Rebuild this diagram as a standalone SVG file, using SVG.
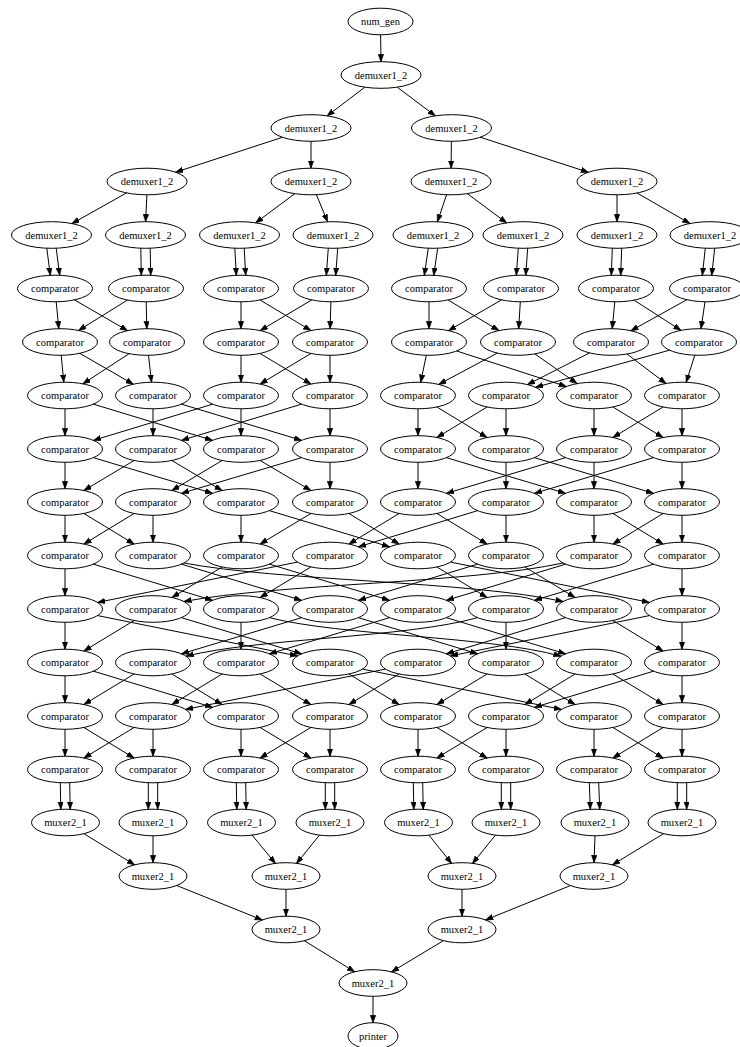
<svg xmlns="http://www.w3.org/2000/svg" width="740" height="1047" viewBox="0 0 740 1047">
<defs>
<marker id="ah" markerWidth="8" markerHeight="6" refX="7.5" refY="2.75" orient="auto" markerUnits="userSpaceOnUse"><path d="M0,0 L7.5,2.75 L0,5.5 z" fill="#000" stroke="#000" stroke-width="0.6"/></marker>
</defs>
<style>
.e line,.e path{stroke:#000;stroke-width:1;fill:none;marker-end:url(#ah)}
.n ellipse{fill:none;stroke:#000;stroke-width:1}
.n text{font-family:"Liberation Serif","Times New Roman",serif;font-size:10.5px;text-anchor:middle;fill:#000}
</style>
<rect width="740" height="1047" fill="#fff"/>

<g id="edges" class="e">
<!-- distribution tree -->
<line x1="380.6" y1="34.8" x2="381" y2="61.7"/>
<line x1="364.9" y1="87.2" x2="327.1" y2="115.8"/>
<line x1="397.2" y1="87.2" x2="435.3" y2="115.8"/>
<line x1="282.4" y1="137.3" x2="175.6" y2="172.2"/>
<line x1="311" y1="141.3" x2="311" y2="168.2"/>
<line x1="451.4" y1="141.3" x2="451.1" y2="168.2"/>
<line x1="480.1" y1="137.2" x2="588.4" y2="172.3"/>
<line x1="126.6" y1="192.9" x2="71.9" y2="223.6"/>
<line x1="146.9" y1="194.8" x2="145.6" y2="221.7"/>
<line x1="294.8" y1="193.7" x2="255.7" y2="222.8"/>
<line x1="316.4" y1="194.7" x2="327.6" y2="221.8"/>
<line x1="446.6" y1="194.7" x2="437.4" y2="221.8"/>
<line x1="467.3" y1="193.6" x2="506.7" y2="222.9"/>
<line x1="617" y1="194.8" x2="617" y2="221.7"/>
<line x1="637" y1="193" x2="690" y2="223.5"/>
<!-- demuxer outputs into first comparator stage -->
<line x1="46.8" y1="248.2" x2="50.3" y2="275.3"/><line x1="56.2" y1="248.2" x2="59.7" y2="275.3"/>
<line x1="140.8" y1="248.2" x2="141.3" y2="275.3"/><line x1="150.2" y1="248.2" x2="150.7" y2="275.3"/>
<line x1="234.8" y1="248.2" x2="236.3" y2="275.3"/><line x1="244.2" y1="248.2" x2="245.7" y2="275.3"/>
<line x1="328.3" y1="248.2" x2="326.3" y2="275.3"/><line x1="337.7" y1="248.2" x2="335.7" y2="275.3"/>
<line x1="428.3" y1="248.2" x2="424.3" y2="275.3"/><line x1="437.7" y1="248.2" x2="433.7" y2="275.3"/>
<line x1="518.3" y1="248.2" x2="516.3" y2="275.3"/><line x1="527.7" y1="248.2" x2="525.7" y2="275.3"/>
<line x1="612.3" y1="248.2" x2="611.3" y2="275.3"/><line x1="621.7" y1="248.2" x2="620.7" y2="275.3"/>
<line x1="705.3" y1="248.2" x2="702.3" y2="275.3"/><line x1="714.7" y1="248.2" x2="711.7" y2="275.3"/>
<!-- stage 1 -> 2 -->
<line x1="56.2" y1="301.8" x2="58.8" y2="328.7"/>
<line x1="74.5" y1="299.9" x2="127.5" y2="330.6"/>
<line x1="127.4" y1="300.1" x2="78.6" y2="330.4"/>
<line x1="146.2" y1="301.8" x2="146.8" y2="328.7"/>
<line x1="241" y1="301.8" x2="241" y2="328.7"/>
<line x1="260.1" y1="300" x2="310.9" y2="330.5"/>
<line x1="311.8" y1="299.9" x2="260.2" y2="330.6"/>
<line x1="330.9" y1="301.8" x2="330.1" y2="328.7"/>
<line x1="429" y1="301.8" x2="429" y2="328.7"/>
<line x1="448.1" y1="300" x2="498.9" y2="330.5"/>
<line x1="501.5" y1="299.9" x2="448.5" y2="330.6"/>
<line x1="520.3" y1="301.8" x2="518.7" y2="328.7"/>
<line x1="614.8" y1="301.8" x2="612.2" y2="328.7"/>
<line x1="634.1" y1="300.2" x2="680.9" y2="330.3"/>
<line x1="686.9" y1="299.7" x2="630.9" y2="330.8"/>
<line x1="705" y1="301.8" x2="701" y2="328.7"/>
<!-- stage 2 -> 3 -->
<line x1="61.2" y1="355.3" x2="63.8" y2="382.2"/>
<line x1="79.7" y1="353.3" x2="133.3" y2="384.2"/>
<line x1="129.1" y1="353.7" x2="82.9" y2="383.8"/>
<line x1="148.5" y1="355.3" x2="151.5" y2="382.2"/>
<line x1="241" y1="355.3" x2="241" y2="382.2"/>
<line x1="260.1" y1="353.5" x2="310.9" y2="384"/>
<line x1="310.9" y1="353.5" x2="260.1" y2="384"/>
<line x1="330" y1="355.3" x2="330" y2="382.2"/>
<line x1="426.3" y1="355.3" x2="420.7" y2="382.2"/>
<line x1="456.7" y1="351" x2="566.3" y2="386.5"/>
<line x1="497.3" y1="353.1" x2="438.7" y2="384.4"/>
<line x1="534.9" y1="353.9" x2="577.1" y2="383.6"/>
<line x1="589.6" y1="352.9" x2="527.4" y2="384.6"/>
<line x1="627" y1="354" x2="666" y2="383.5"/>
<line x1="669.5" y1="350.2" x2="535.5" y2="387.3"/>
<line x1="694.8" y1="355.2" x2="686.2" y2="382.3"/>
<!-- stage 3 -> 4 -->
<line x1="65" y1="408.8" x2="65" y2="435.7"/>
<line x1="93.5" y1="404.2" x2="212.5" y2="440.3"/>
<line x1="153" y1="408.8" x2="153" y2="435.7"/>
<line x1="181.5" y1="404.2" x2="301.5" y2="440.3"/>
<line x1="212.5" y1="404.2" x2="93.5" y2="440.3"/>
<line x1="241" y1="408.8" x2="241" y2="435.7"/>
<line x1="301.5" y1="404.2" x2="181.5" y2="440.3"/>
<line x1="330" y1="408.8" x2="330" y2="435.7"/>
<line x1="418" y1="408.8" x2="418" y2="435.7"/>
<line x1="436.9" y1="407" x2="487.1" y2="437.5"/>
<line x1="487.1" y1="407" x2="436.9" y2="437.5"/>
<line x1="506" y1="408.8" x2="506" y2="435.7"/>
<line x1="594" y1="408.8" x2="594" y2="435.7"/>
<line x1="612.9" y1="407" x2="663.1" y2="437.5"/>
<line x1="663.1" y1="407" x2="612.9" y2="437.5"/>
<line x1="682" y1="408.8" x2="682" y2="435.7"/>
<!-- stage 4 -> 5 -->
<line x1="65" y1="462.3" x2="65" y2="488.7"/>
<line x1="93.5" y1="457.7" x2="212.5" y2="493.3"/>
<line x1="134.1" y1="460.5" x2="83.9" y2="490.5"/>
<line x1="171.9" y1="460.5" x2="222.1" y2="490.5"/>
<line x1="222.1" y1="460.5" x2="171.9" y2="490.5"/>
<line x1="260.1" y1="460.5" x2="310.9" y2="490.5"/>
<line x1="301.5" y1="457.7" x2="181.5" y2="493.3"/>
<line x1="330" y1="462.3" x2="330" y2="488.7"/>
<line x1="418" y1="462.3" x2="418" y2="488.7"/>
<line x1="446.5" y1="457.7" x2="565.5" y2="493.3"/>
<line x1="506" y1="462.3" x2="506" y2="488.7"/>
<line x1="534.5" y1="457.7" x2="653.5" y2="493.3"/>
<line x1="565.5" y1="457.7" x2="446.5" y2="493.3"/>
<line x1="594" y1="462.3" x2="594" y2="488.7"/>
<line x1="653.5" y1="457.7" x2="534.5" y2="493.3"/>
<line x1="682" y1="462.3" x2="682" y2="488.7"/>
<!-- stage 5 -> 6 -->
<line x1="65" y1="515.3" x2="65" y2="542.2"/>
<line x1="83.9" y1="513.5" x2="134.1" y2="544"/>
<line x1="134.1" y1="513.5" x2="83.9" y2="544"/>
<line x1="153" y1="515.3" x2="153" y2="542.2"/>
<line x1="241" y1="515.3" x2="241" y2="542.2"/>
<line x1="269.5" y1="510.7" x2="389.5" y2="546.8"/>
<line x1="310.9" y1="513.5" x2="260.1" y2="544"/>
<line x1="348.9" y1="513.5" x2="399.1" y2="544"/>
<line x1="399.1" y1="513.5" x2="348.9" y2="544"/>
<line x1="436.9" y1="513.5" x2="487.1" y2="544"/>
<line x1="477.5" y1="510.7" x2="358.5" y2="546.8"/>
<line x1="506" y1="515.3" x2="506" y2="542.2"/>
<line x1="594" y1="515.3" x2="594" y2="542.2"/>
<line x1="612.9" y1="513.5" x2="663.1" y2="544"/>
<line x1="663.1" y1="513.5" x2="612.9" y2="544"/>
<line x1="682" y1="515.3" x2="682" y2="542.2"/>
<!-- stage 6 -> 7 -->
<line x1="65" y1="568.8" x2="65" y2="595.7"/>
<line x1="93.5" y1="564.2" x2="212.5" y2="600.3"/>
<line x1="181.5" y1="564.2" x2="301.5" y2="600.3"/>
<path d="M183.9,563 C278.7,581 468.3,581 563.1,601.5"/>
<line x1="222.1" y1="567" x2="171.9" y2="597.5"/>
<line x1="269.5" y1="564.2" x2="389.5" y2="600.3"/>
<line x1="297.4" y1="562.1" x2="97.6" y2="602.4"/>
<line x1="310.9" y1="567" x2="260.1" y2="597.5"/>
<line x1="436.9" y1="567" x2="487.1" y2="597.5"/>
<line x1="450.6" y1="562.1" x2="649.4" y2="602.4"/>
<line x1="477.5" y1="564.2" x2="358.5" y2="600.3"/>
<line x1="524.9" y1="567" x2="575.1" y2="597.5"/>
<path d="M563.1,563 C468.3,583.5 278.7,583.5 183.9,601.5"/>
<line x1="565.5" y1="564.2" x2="446.5" y2="600.3"/>
<line x1="653.5" y1="564.2" x2="534.5" y2="600.3"/>
<line x1="682" y1="568.8" x2="682" y2="595.7"/>
<!-- stage 7 -> 8 -->
<line x1="65" y1="622.3" x2="65" y2="649.2"/>
<line x1="97.6" y1="615.6" x2="297.4" y2="655.9"/>
<line x1="134.1" y1="620.5" x2="83.9" y2="651"/>
<line x1="181.5" y1="617.7" x2="301.5" y2="653.8"/>
<line x1="241" y1="622.3" x2="241" y2="649.2"/>
<path d="M269.5,617.7 C342.4,636 488.1,636 561,656.2"/>
<line x1="301.5" y1="617.7" x2="181.5" y2="653.8"/>
<line x1="358.5" y1="617.7" x2="477.5" y2="653.8"/>
<line x1="389.5" y1="617.7" x2="269.5" y2="653.8"/>
<line x1="446.5" y1="617.7" x2="565.5" y2="653.8"/>
<path d="M477.5,617.7 C404.6,638 258.9,638 186,656.2"/>
<line x1="506" y1="622.3" x2="506" y2="649.2"/>
<line x1="565.5" y1="617.7" x2="446.5" y2="653.8"/>
<line x1="612.9" y1="620.5" x2="663.1" y2="651"/>
<line x1="649.4" y1="615.6" x2="450.6" y2="655.9"/>
<line x1="682" y1="622.3" x2="682" y2="649.2"/>
<!-- stage 8 -> 9 -->
<line x1="65" y1="675.8" x2="65" y2="702.7"/>
<line x1="93.5" y1="671.2" x2="212.5" y2="707.3"/>
<line x1="134.1" y1="674" x2="83.9" y2="704.5"/>
<line x1="171.9" y1="674" x2="222.1" y2="704.5"/>
<line x1="222.1" y1="674" x2="171.9" y2="704.5"/>
<line x1="260.1" y1="674" x2="310.9" y2="704.5"/>
<line x1="348.9" y1="674" x2="399.1" y2="704.5"/>
<line x1="362.6" y1="669.1" x2="561.4" y2="709.4"/>
<line x1="385.4" y1="669.1" x2="185.6" y2="709.4"/>
<line x1="399.1" y1="674" x2="348.9" y2="704.5"/>
<line x1="487.1" y1="674" x2="436.9" y2="704.5"/>
<line x1="524.9" y1="674" x2="575.1" y2="704.5"/>
<line x1="575.1" y1="674" x2="524.9" y2="704.5"/>
<line x1="612.9" y1="674" x2="663.1" y2="704.5"/>
<line x1="653.5" y1="671.2" x2="534.5" y2="707.3"/>
<line x1="682" y1="675.8" x2="682" y2="702.7"/>
<!-- stage 9 -> 10 -->
<line x1="65" y1="729.3" x2="65" y2="756.2"/>
<line x1="83.9" y1="727.5" x2="134.1" y2="758"/>
<line x1="134.1" y1="727.5" x2="83.9" y2="758"/>
<line x1="153" y1="729.3" x2="153" y2="756.2"/>
<line x1="241" y1="729.3" x2="241" y2="756.2"/>
<line x1="260.1" y1="727.5" x2="310.9" y2="758"/>
<line x1="310.9" y1="727.5" x2="260.1" y2="758"/>
<line x1="330" y1="729.3" x2="330" y2="756.2"/>
<line x1="418" y1="729.3" x2="418" y2="756.2"/>
<line x1="436.9" y1="727.5" x2="487.1" y2="758"/>
<line x1="487.1" y1="727.5" x2="436.9" y2="758"/>
<line x1="506" y1="729.3" x2="506" y2="756.2"/>
<line x1="594" y1="729.3" x2="594" y2="756.2"/>
<line x1="612.9" y1="727.5" x2="663.1" y2="758"/>
<line x1="663.1" y1="727.5" x2="612.9" y2="758"/>
<line x1="682" y1="729.3" x2="682" y2="756.2"/>
<!-- last comparator stage into muxers -->
<line x1="60.3" y1="782.7" x2="60.8" y2="809.3"/><line x1="69.7" y1="782.7" x2="70.2" y2="809.3"/>
<line x1="148.3" y1="782.7" x2="148.3" y2="809.3"/><line x1="157.7" y1="782.7" x2="157.7" y2="809.3"/>
<line x1="236.3" y1="782.7" x2="236.8" y2="809.3"/><line x1="245.7" y1="782.7" x2="246.2" y2="809.3"/>
<line x1="325.3" y1="782.7" x2="325.3" y2="809.3"/><line x1="334.7" y1="782.7" x2="334.7" y2="809.3"/>
<line x1="413.3" y1="782.7" x2="413.8" y2="809.3"/><line x1="422.7" y1="782.7" x2="423.2" y2="809.3"/>
<line x1="501.3" y1="782.7" x2="501.3" y2="809.3"/><line x1="510.7" y1="782.7" x2="510.7" y2="809.3"/>
<line x1="589.3" y1="782.7" x2="590.3" y2="809.3"/><line x1="598.7" y1="782.7" x2="599.7" y2="809.3"/>
<line x1="677.3" y1="782.7" x2="677.3" y2="809.3"/><line x1="686.7" y1="782.7" x2="686.7" y2="809.3"/>
<!-- merge tree -->
<line x1="83.9" y1="833.7" x2="134.6" y2="864.8"/>
<line x1="153" y1="835.8" x2="153" y2="862.7"/>
<line x1="252.1" y1="835.1" x2="275.4" y2="863.4"/>
<line x1="319.5" y1="835.1" x2="296.5" y2="863.4"/>
<line x1="428.9" y1="835.1" x2="451.6" y2="863.4"/>
<line x1="495.5" y1="835.1" x2="472.5" y2="863.4"/>
<line x1="595" y1="835.8" x2="594" y2="862.7"/>
<line x1="663.5" y1="833.7" x2="612.5" y2="864.8"/>
<line x1="176.7" y1="885.5" x2="262.3" y2="920"/>
<line x1="286" y1="889.3" x2="286" y2="916.2"/>
<line x1="462" y1="889.3" x2="462" y2="916.2"/>
<line x1="570.4" y1="885.6" x2="485.6" y2="919.9"/>
<line x1="304.3" y1="940.7" x2="354.7" y2="971.8"/>
<line x1="443.5" y1="940.6" x2="391.5" y2="971.9"/>
<line x1="373" y1="996.3" x2="373" y2="1022.7"/>
</g>

<!-- source and distribution tree -->
<g id="num_gen" class="n"><ellipse cx="380.5" cy="21.5" rx="32.5" ry="13.3"/><text x="380.5" y="25.2">num_gen</text></g>
<g id="dmx_1_0" class="n"><ellipse cx="381" cy="75" rx="40" ry="13.3"/><text x="381" y="78.7">demuxer1_2</text></g>
<g id="dmx_2_0" class="n"><ellipse cx="311" cy="128" rx="40" ry="13.3"/><text x="311" y="131.7">demuxer1_2</text></g>
<g id="dmx_2_1" class="n"><ellipse cx="451.5" cy="128" rx="40" ry="13.3"/><text x="451.5" y="131.7">demuxer1_2</text></g>
<g id="dmx_3_0" class="n"><ellipse cx="147" cy="181.5" rx="40" ry="13.3"/><text x="147" y="185.2">demuxer1_2</text></g>
<g id="dmx_3_1" class="n"><ellipse cx="311" cy="181.5" rx="40" ry="13.3"/><text x="311" y="185.2">demuxer1_2</text></g>
<g id="dmx_3_2" class="n"><ellipse cx="451" cy="181.5" rx="40" ry="13.3"/><text x="451" y="185.2">demuxer1_2</text></g>
<g id="dmx_3_3" class="n"><ellipse cx="617" cy="181.5" rx="40" ry="13.3"/><text x="617" y="185.2">demuxer1_2</text></g>
<g id="dmx_4_0" class="n"><ellipse cx="51.5" cy="235" rx="40" ry="13.3"/><text x="51.5" y="238.7">demuxer1_2</text></g>
<g id="dmx_4_1" class="n"><ellipse cx="145.5" cy="235" rx="40" ry="13.3"/><text x="145.5" y="238.7">demuxer1_2</text></g>
<g id="dmx_4_2" class="n"><ellipse cx="239.5" cy="235" rx="40" ry="13.3"/><text x="239.5" y="238.7">demuxer1_2</text></g>
<g id="dmx_4_3" class="n"><ellipse cx="333" cy="235" rx="40" ry="13.3"/><text x="333" y="238.7">demuxer1_2</text></g>
<g id="dmx_4_4" class="n"><ellipse cx="433" cy="235" rx="40" ry="13.3"/><text x="433" y="238.7">demuxer1_2</text></g>
<g id="dmx_4_5" class="n"><ellipse cx="523" cy="235" rx="40" ry="13.3"/><text x="523" y="238.7">demuxer1_2</text></g>
<g id="dmx_4_6" class="n"><ellipse cx="617" cy="235" rx="40" ry="13.3"/><text x="617" y="238.7">demuxer1_2</text></g>
<g id="dmx_4_7" class="n"><ellipse cx="710" cy="235" rx="40" ry="13.3"/><text x="710" y="238.7">demuxer1_2</text></g>

<!-- comparator stage 1 -->
<g id="cmp_1_0" class="n"><ellipse cx="55" cy="288.5" rx="37.5" ry="13.3"/><text x="55" y="292.2">comparator</text></g>
<g id="cmp_1_1" class="n"><ellipse cx="146" cy="288.5" rx="37.5" ry="13.3"/><text x="146" y="292.2">comparator</text></g>
<g id="cmp_1_2" class="n"><ellipse cx="241" cy="288.5" rx="37.5" ry="13.3"/><text x="241" y="292.2">comparator</text></g>
<g id="cmp_1_3" class="n"><ellipse cx="331" cy="288.5" rx="37.5" ry="13.3"/><text x="331" y="292.2">comparator</text></g>
<g id="cmp_1_4" class="n"><ellipse cx="429" cy="288.5" rx="37.5" ry="13.3"/><text x="429" y="292.2">comparator</text></g>
<g id="cmp_1_5" class="n"><ellipse cx="521" cy="288.5" rx="37.5" ry="13.3"/><text x="521" y="292.2">comparator</text></g>
<g id="cmp_1_6" class="n"><ellipse cx="616" cy="288.5" rx="37.5" ry="13.3"/><text x="616" y="292.2">comparator</text></g>
<g id="cmp_1_7" class="n"><ellipse cx="707" cy="288.5" rx="37.5" ry="13.3"/><text x="707" y="292.2">comparator</text></g>
<!-- comparator stage 2 -->
<g id="cmp_2_0" class="n"><ellipse cx="60" cy="342" rx="37.5" ry="13.3"/><text x="60" y="345.7">comparator</text></g>
<g id="cmp_2_1" class="n"><ellipse cx="147" cy="342" rx="37.5" ry="13.3"/><text x="147" y="345.7">comparator</text></g>
<g id="cmp_2_2" class="n"><ellipse cx="241" cy="342" rx="37.5" ry="13.3"/><text x="241" y="345.7">comparator</text></g>
<g id="cmp_2_3" class="n"><ellipse cx="330" cy="342" rx="37.5" ry="13.3"/><text x="330" y="345.7">comparator</text></g>
<g id="cmp_2_4" class="n"><ellipse cx="429" cy="342" rx="37.5" ry="13.3"/><text x="429" y="345.7">comparator</text></g>
<g id="cmp_2_5" class="n"><ellipse cx="518" cy="342" rx="37.5" ry="13.3"/><text x="518" y="345.7">comparator</text></g>
<g id="cmp_2_6" class="n"><ellipse cx="611" cy="342" rx="37.5" ry="13.3"/><text x="611" y="345.7">comparator</text></g>
<g id="cmp_2_7" class="n"><ellipse cx="699" cy="342" rx="37.5" ry="13.3"/><text x="699" y="345.7">comparator</text></g>
<!-- comparator stage 3 -->
<g id="cmp_3_0" class="n"><ellipse cx="65" cy="395.5" rx="37.5" ry="13.3"/><text x="65" y="399.2">comparator</text></g>
<g id="cmp_3_1" class="n"><ellipse cx="153" cy="395.5" rx="37.5" ry="13.3"/><text x="153" y="399.2">comparator</text></g>
<g id="cmp_3_2" class="n"><ellipse cx="241" cy="395.5" rx="37.5" ry="13.3"/><text x="241" y="399.2">comparator</text></g>
<g id="cmp_3_3" class="n"><ellipse cx="330" cy="395.5" rx="37.5" ry="13.3"/><text x="330" y="399.2">comparator</text></g>
<g id="cmp_3_4" class="n"><ellipse cx="418" cy="395.5" rx="37.5" ry="13.3"/><text x="418" y="399.2">comparator</text></g>
<g id="cmp_3_5" class="n"><ellipse cx="506" cy="395.5" rx="37.5" ry="13.3"/><text x="506" y="399.2">comparator</text></g>
<g id="cmp_3_6" class="n"><ellipse cx="594" cy="395.5" rx="37.5" ry="13.3"/><text x="594" y="399.2">comparator</text></g>
<g id="cmp_3_7" class="n"><ellipse cx="682" cy="395.5" rx="37.5" ry="13.3"/><text x="682" y="399.2">comparator</text></g>
<!-- comparator stage 4 -->
<g id="cmp_4_0" class="n"><ellipse cx="65" cy="449" rx="37.5" ry="13.3"/><text x="65" y="452.7">comparator</text></g>
<g id="cmp_4_1" class="n"><ellipse cx="153" cy="449" rx="37.5" ry="13.3"/><text x="153" y="452.7">comparator</text></g>
<g id="cmp_4_2" class="n"><ellipse cx="241" cy="449" rx="37.5" ry="13.3"/><text x="241" y="452.7">comparator</text></g>
<g id="cmp_4_3" class="n"><ellipse cx="330" cy="449" rx="37.5" ry="13.3"/><text x="330" y="452.7">comparator</text></g>
<g id="cmp_4_4" class="n"><ellipse cx="418" cy="449" rx="37.5" ry="13.3"/><text x="418" y="452.7">comparator</text></g>
<g id="cmp_4_5" class="n"><ellipse cx="506" cy="449" rx="37.5" ry="13.3"/><text x="506" y="452.7">comparator</text></g>
<g id="cmp_4_6" class="n"><ellipse cx="594" cy="449" rx="37.5" ry="13.3"/><text x="594" y="452.7">comparator</text></g>
<g id="cmp_4_7" class="n"><ellipse cx="682" cy="449" rx="37.5" ry="13.3"/><text x="682" y="452.7">comparator</text></g>
<!-- comparator stage 5 -->
<g id="cmp_5_0" class="n"><ellipse cx="65" cy="502" rx="37.5" ry="13.3"/><text x="65" y="505.7">comparator</text></g>
<g id="cmp_5_1" class="n"><ellipse cx="153" cy="502" rx="37.5" ry="13.3"/><text x="153" y="505.7">comparator</text></g>
<g id="cmp_5_2" class="n"><ellipse cx="241" cy="502" rx="37.5" ry="13.3"/><text x="241" y="505.7">comparator</text></g>
<g id="cmp_5_3" class="n"><ellipse cx="330" cy="502" rx="37.5" ry="13.3"/><text x="330" y="505.7">comparator</text></g>
<g id="cmp_5_4" class="n"><ellipse cx="418" cy="502" rx="37.5" ry="13.3"/><text x="418" y="505.7">comparator</text></g>
<g id="cmp_5_5" class="n"><ellipse cx="506" cy="502" rx="37.5" ry="13.3"/><text x="506" y="505.7">comparator</text></g>
<g id="cmp_5_6" class="n"><ellipse cx="594" cy="502" rx="37.5" ry="13.3"/><text x="594" y="505.7">comparator</text></g>
<g id="cmp_5_7" class="n"><ellipse cx="682" cy="502" rx="37.5" ry="13.3"/><text x="682" y="505.7">comparator</text></g>
<!-- comparator stage 6 -->
<g id="cmp_6_0" class="n"><ellipse cx="65" cy="555.5" rx="37.5" ry="13.3"/><text x="65" y="559.2">comparator</text></g>
<g id="cmp_6_1" class="n"><ellipse cx="153" cy="555.5" rx="37.5" ry="13.3"/><text x="153" y="559.2">comparator</text></g>
<g id="cmp_6_2" class="n"><ellipse cx="241" cy="555.5" rx="37.5" ry="13.3"/><text x="241" y="559.2">comparator</text></g>
<g id="cmp_6_3" class="n"><ellipse cx="330" cy="555.5" rx="37.5" ry="13.3"/><text x="330" y="559.2">comparator</text></g>
<g id="cmp_6_4" class="n"><ellipse cx="418" cy="555.5" rx="37.5" ry="13.3"/><text x="418" y="559.2">comparator</text></g>
<g id="cmp_6_5" class="n"><ellipse cx="506" cy="555.5" rx="37.5" ry="13.3"/><text x="506" y="559.2">comparator</text></g>
<g id="cmp_6_6" class="n"><ellipse cx="594" cy="555.5" rx="37.5" ry="13.3"/><text x="594" y="559.2">comparator</text></g>
<g id="cmp_6_7" class="n"><ellipse cx="682" cy="555.5" rx="37.5" ry="13.3"/><text x="682" y="559.2">comparator</text></g>
<!-- comparator stage 7 -->
<g id="cmp_7_0" class="n"><ellipse cx="65" cy="609" rx="37.5" ry="13.3"/><text x="65" y="612.7">comparator</text></g>
<g id="cmp_7_1" class="n"><ellipse cx="153" cy="609" rx="37.5" ry="13.3"/><text x="153" y="612.7">comparator</text></g>
<g id="cmp_7_2" class="n"><ellipse cx="241" cy="609" rx="37.5" ry="13.3"/><text x="241" y="612.7">comparator</text></g>
<g id="cmp_7_3" class="n"><ellipse cx="330" cy="609" rx="37.5" ry="13.3"/><text x="330" y="612.7">comparator</text></g>
<g id="cmp_7_4" class="n"><ellipse cx="418" cy="609" rx="37.5" ry="13.3"/><text x="418" y="612.7">comparator</text></g>
<g id="cmp_7_5" class="n"><ellipse cx="506" cy="609" rx="37.5" ry="13.3"/><text x="506" y="612.7">comparator</text></g>
<g id="cmp_7_6" class="n"><ellipse cx="594" cy="609" rx="37.5" ry="13.3"/><text x="594" y="612.7">comparator</text></g>
<g id="cmp_7_7" class="n"><ellipse cx="682" cy="609" rx="37.5" ry="13.3"/><text x="682" y="612.7">comparator</text></g>
<!-- comparator stage 8 -->
<g id="cmp_8_0" class="n"><ellipse cx="65" cy="662.5" rx="37.5" ry="13.3"/><text x="65" y="666.2">comparator</text></g>
<g id="cmp_8_1" class="n"><ellipse cx="153" cy="662.5" rx="37.5" ry="13.3"/><text x="153" y="666.2">comparator</text></g>
<g id="cmp_8_2" class="n"><ellipse cx="241" cy="662.5" rx="37.5" ry="13.3"/><text x="241" y="666.2">comparator</text></g>
<g id="cmp_8_3" class="n"><ellipse cx="330" cy="662.5" rx="37.5" ry="13.3"/><text x="330" y="666.2">comparator</text></g>
<g id="cmp_8_4" class="n"><ellipse cx="418" cy="662.5" rx="37.5" ry="13.3"/><text x="418" y="666.2">comparator</text></g>
<g id="cmp_8_5" class="n"><ellipse cx="506" cy="662.5" rx="37.5" ry="13.3"/><text x="506" y="666.2">comparator</text></g>
<g id="cmp_8_6" class="n"><ellipse cx="594" cy="662.5" rx="37.5" ry="13.3"/><text x="594" y="666.2">comparator</text></g>
<g id="cmp_8_7" class="n"><ellipse cx="682" cy="662.5" rx="37.5" ry="13.3"/><text x="682" y="666.2">comparator</text></g>
<!-- comparator stage 9 -->
<g id="cmp_9_0" class="n"><ellipse cx="65" cy="716" rx="37.5" ry="13.3"/><text x="65" y="719.7">comparator</text></g>
<g id="cmp_9_1" class="n"><ellipse cx="153" cy="716" rx="37.5" ry="13.3"/><text x="153" y="719.7">comparator</text></g>
<g id="cmp_9_2" class="n"><ellipse cx="241" cy="716" rx="37.5" ry="13.3"/><text x="241" y="719.7">comparator</text></g>
<g id="cmp_9_3" class="n"><ellipse cx="330" cy="716" rx="37.5" ry="13.3"/><text x="330" y="719.7">comparator</text></g>
<g id="cmp_9_4" class="n"><ellipse cx="418" cy="716" rx="37.5" ry="13.3"/><text x="418" y="719.7">comparator</text></g>
<g id="cmp_9_5" class="n"><ellipse cx="506" cy="716" rx="37.5" ry="13.3"/><text x="506" y="719.7">comparator</text></g>
<g id="cmp_9_6" class="n"><ellipse cx="594" cy="716" rx="37.5" ry="13.3"/><text x="594" y="719.7">comparator</text></g>
<g id="cmp_9_7" class="n"><ellipse cx="682" cy="716" rx="37.5" ry="13.3"/><text x="682" y="719.7">comparator</text></g>
<!-- comparator stage 10 -->
<g id="cmp_10_0" class="n"><ellipse cx="65" cy="769.5" rx="37.5" ry="13.3"/><text x="65" y="773.2">comparator</text></g>
<g id="cmp_10_1" class="n"><ellipse cx="153" cy="769.5" rx="37.5" ry="13.3"/><text x="153" y="773.2">comparator</text></g>
<g id="cmp_10_2" class="n"><ellipse cx="241" cy="769.5" rx="37.5" ry="13.3"/><text x="241" y="773.2">comparator</text></g>
<g id="cmp_10_3" class="n"><ellipse cx="330" cy="769.5" rx="37.5" ry="13.3"/><text x="330" y="773.2">comparator</text></g>
<g id="cmp_10_4" class="n"><ellipse cx="418" cy="769.5" rx="37.5" ry="13.3"/><text x="418" y="773.2">comparator</text></g>
<g id="cmp_10_5" class="n"><ellipse cx="506" cy="769.5" rx="37.5" ry="13.3"/><text x="506" y="773.2">comparator</text></g>
<g id="cmp_10_6" class="n"><ellipse cx="594" cy="769.5" rx="37.5" ry="13.3"/><text x="594" y="773.2">comparator</text></g>
<g id="cmp_10_7" class="n"><ellipse cx="682" cy="769.5" rx="37.5" ry="13.3"/><text x="682" y="773.2">comparator</text></g>

<!-- merge tree and sink -->
<g id="mux_1_0" class="n"><ellipse cx="65.5" cy="822.5" rx="34" ry="13.3"/><text x="65.5" y="826.2">muxer2_1</text></g>
<g id="mux_1_1" class="n"><ellipse cx="153" cy="822.5" rx="34" ry="13.3"/><text x="153" y="826.2">muxer2_1</text></g>
<g id="mux_1_2" class="n"><ellipse cx="241.5" cy="822.5" rx="34" ry="13.3"/><text x="241.5" y="826.2">muxer2_1</text></g>
<g id="mux_1_3" class="n"><ellipse cx="330" cy="822.5" rx="34" ry="13.3"/><text x="330" y="826.2">muxer2_1</text></g>
<g id="mux_1_4" class="n"><ellipse cx="418.5" cy="822.5" rx="34" ry="13.3"/><text x="418.5" y="826.2">muxer2_1</text></g>
<g id="mux_1_5" class="n"><ellipse cx="506" cy="822.5" rx="34" ry="13.3"/><text x="506" y="826.2">muxer2_1</text></g>
<g id="mux_1_6" class="n"><ellipse cx="595" cy="822.5" rx="34" ry="13.3"/><text x="595" y="826.2">muxer2_1</text></g>
<g id="mux_1_7" class="n"><ellipse cx="682" cy="822.5" rx="34" ry="13.3"/><text x="682" y="826.2">muxer2_1</text></g>
<g id="mux_2_0" class="n"><ellipse cx="153" cy="876" rx="34" ry="13.3"/><text x="153" y="879.7">muxer2_1</text></g>
<g id="mux_2_1" class="n"><ellipse cx="286" cy="876" rx="34" ry="13.3"/><text x="286" y="879.7">muxer2_1</text></g>
<g id="mux_2_2" class="n"><ellipse cx="462" cy="876" rx="34" ry="13.3"/><text x="462" y="879.7">muxer2_1</text></g>
<g id="mux_2_3" class="n"><ellipse cx="594" cy="876" rx="34" ry="13.3"/><text x="594" y="879.7">muxer2_1</text></g>
<g id="mux_3_0" class="n"><ellipse cx="286" cy="929.5" rx="34" ry="13.3"/><text x="286" y="933.2">muxer2_1</text></g>
<g id="mux_3_1" class="n"><ellipse cx="462" cy="929.5" rx="34" ry="13.3"/><text x="462" y="933.2">muxer2_1</text></g>
<g id="mux_4_0" class="n"><ellipse cx="373" cy="983" rx="34" ry="13.3"/><text x="373" y="986.7">muxer2_1</text></g>
<g id="printer" class="n"><ellipse cx="373" cy="1036" rx="25" ry="13.3"/><text x="373" y="1039.7">printer</text></g>
</svg>
